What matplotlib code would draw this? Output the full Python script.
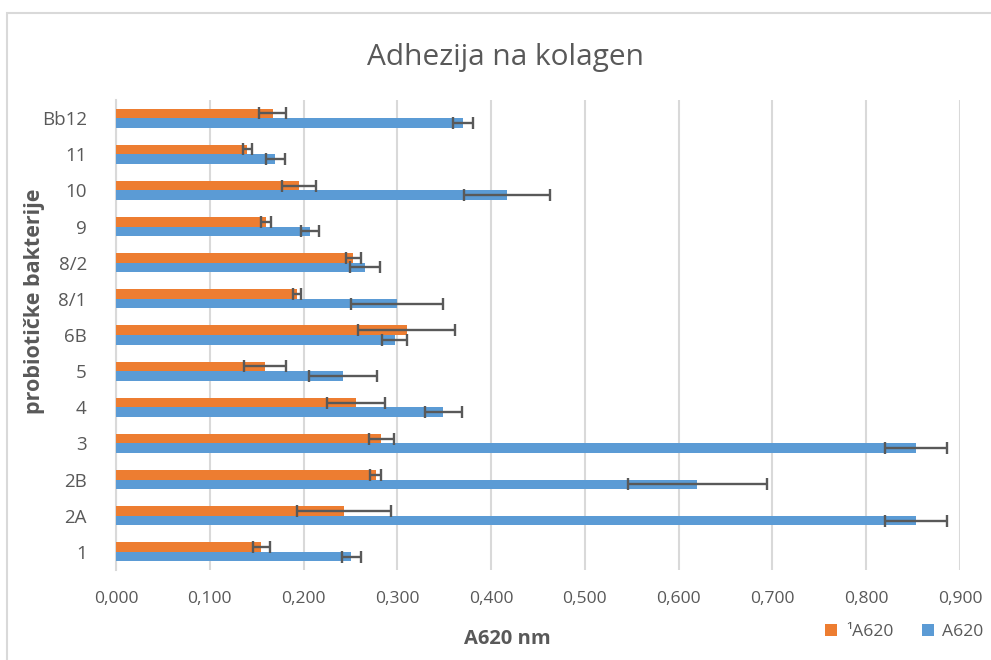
import matplotlib
matplotlib.use("Agg")
import matplotlib.pyplot as plt
import numpy as np
from matplotlib.patches import Patch, Rectangle

categories = ['1', '2A', '2B', '3', '4', '5', '6B', '8/1', '8/2', '9', '10', '11', 'Bb12']
series_names = ['\u00b9A620', 'A620']
orange_vals = [0.155, 0.243, 0.277, 0.283, 0.256, 0.159, 0.310, 0.193, 0.253, 0.160, 0.195, 0.140, 0.167]
orange_err = [0.009, 0.050, 0.006, 0.013, 0.031, 0.022, 0.052, 0.004, 0.008, 0.005, 0.018, 0.005, 0.014]
blue_vals = [0.251, 0.853, 0.620, 0.853, 0.349, 0.242, 0.297, 0.300, 0.265, 0.207, 0.417, 0.170, 0.370]
blue_err = [0.010, 0.033, 0.074, 0.033, 0.020, 0.036, 0.013, 0.049, 0.016, 0.010, 0.046, 0.010, 0.011]
xticks = [0.0, 0.1, 0.2, 0.3, 0.4, 0.5, 0.6, 0.7, 0.8, 0.9]
xtick_labels = ['0,000', '0,100', '0,200', '0,300', '0,400', '0,500', '0,600', '0,700', '0,800', '0,900']

plt.rcParams['font.family'] = ['Open Sans', 'DejaVu Sans']

W, H = 991, 660
fig = plt.figure(figsize=(W / 100, H / 100), dpi=100)
fig.patch.set_facecolor('white')

# chart border
fig.patches.append(Rectangle((7 / W, -0.1), 1.2, 1 - 13 / H + 0.1, transform=fig.transFigure,
                             fill=False, edgecolor='#d9d9d9', linewidth=1.5))

left, right, top, bottom = 116, 960, 100, 570
ax = fig.add_axes([left / W, 1 - bottom / H, (right - left) / W, (bottom - top) / H])

orange = '#ED7D31'
blue = '#5B9BD5'
ecol = '#595959'
grey_text = '#595959'

y = np.arange(len(categories))
h = 0.263
err_kw = dict(ecolor=ecol, elinewidth=1.7, capsize=4.3, capthick=1.7)
ax.barh(y + h / 2, orange_vals, height=h, color=orange, xerr=orange_err, error_kw=err_kw, zorder=3)
ax.barh(y - h / 2, blue_vals, height=h, color=blue, xerr=blue_err, error_kw=err_kw, zorder=3)

ax.set_xlim(0, 0.9)
ax.set_ylim(-0.5, len(categories) - 0.5)
ax.set_xticks(xticks)
ax.set_xticklabels(xtick_labels)
ax.set_yticks(y)
ax.set_yticklabels(categories)
ax.tick_params(axis='both', length=0, colors=grey_text)
ax.tick_params(axis='x', labelsize=12.6, pad=15)
ax.tick_params(axis='y', labelsize=13.5, pad=21)
ax.grid(axis='x', color='#d9d9d9', linewidth=1.5, zorder=0)
ax.set_axisbelow(True)
for s in ['top', 'right', 'bottom']:
    ax.spines[s].set_visible(False)
ax.spines['left'].set_color('#d9d9d9')
ax.spines['left'].set_linewidth(1.5)

fig.text(505 / W, 1 - 57 / H, 'Adhezija na kolagen', ha='center', va='center',
         fontsize=21.5, color=grey_text)
fig.text(35 / W, 1 - 301 / H, 'probiotičke bakterije', ha='center', va='center',
         rotation=90, fontsize=15.5, fontweight='bold', color=grey_text)
fig.text(507 / W, 1 - 639 / H, 'A620 nm', ha='center', va='center',
         fontsize=14.5, fontweight='bold', color=grey_text)

handles = [Patch(facecolor=orange), Patch(facecolor=blue)]
fig.legend(handles, series_names, loc='center right', bbox_to_anchor=(996 / W, 1 - 632 / H),
           ncol=2, frameon=False, fontsize=12.6, labelcolor=grey_text,
           handlelength=0.7, handleheight=0.7, handletextpad=0.5, columnspacing=1.6,
           borderpad=0.2)

fig.savefig('out.png', dpi=100)
